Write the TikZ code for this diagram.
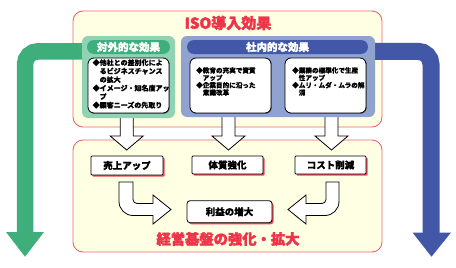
\documentclass[tikz,border=0pt]{standalone}
\usepackage{fontspec}
\setmainfont{Noto Sans CJK JP}[BoldFeatures={FakeBold=0.6}]
\newfontfamily\heavyfont{Noto Sans CJK JP}[BoldFeatures={FakeBold=2.2}]
\usetikzlibrary{shadows}
\definecolor{pinkline}{RGB}{240,100,115}
\definecolor{cream}{RGB}{255,255,228}
\definecolor{lgreen}{RGB}{143,211,180}
\definecolor{dgreen}{RGB}{62,174,123}
\definecolor{lblue}{RGB}{143,162,208}
\definecolor{dblue}{RGB}{66,87,168}
\definecolor{redtext}{RGB}{238,52,72}
\definecolor{redshadow}{RGB}{240,70,85}
\tikzset{
  outerbox/.style={draw=pinkline, fill=cream, line width=0.9pt, rounded corners=10pt, inner sep=0pt},
  panel/.style={rounded corners=6pt, inner sep=0pt},
  pill/.style={rounded corners=7pt, inner sep=0pt, text=white, font=\heavyfont\bfseries\fontsize{10.5}{11}\selectfont},
  whitebox/.style={draw=black, fill=white, line width=0.8pt, rounded corners=6pt, inner sep=0pt,
    drop shadow={shadow xshift=0.7pt, shadow yshift=-0.7pt, fill=black!70, opacity=1}},
  boxtextL/.style={inner sep=0pt, align=left, anchor=north west, font=\bfseries\fontsize{7}{8.5}\selectfont},
  boxtextR/.style={inner sep=0pt, align=left, anchor=north west, font=\bfseries\fontsize{6.6}{7.4}\selectfont},
  resultbox/.style={draw=black, fill=white, line width=0.8pt, rounded corners=1pt, inner sep=0pt,
    font=\bfseries\fontsize{9.5}{10}\selectfont,
    drop shadow={shadow xshift=1.6pt, shadow yshift=-1.6pt, fill=redshadow, opacity=1}},
  blockarrow/.style={draw=black, fill=white, line width=0.8pt},
  bigtitle/.style={text=redtext, inner sep=0pt, font=\heavyfont\bfseries\fontsize{15}{16}\selectfont},
}
\begin{document}
\begin{tikzpicture}[x=1pt,y=-1pt]
\useasboundingbox (0,0) rectangle (456,268);

% outer boxes
\node[outerbox, minimum width=309, minimum height=116] (topbox) at (227.5,69) {};
\node[outerbox, minimum width=309, minimum height=112] (botbox) at (227.5,196) {};

% side arrows
\draw[line width=16.5pt, dgreen, rounded corners=13pt] (84,51.3) -- (25,51.3) -- (25,233);
\fill[dgreen] (6,232) -- (44,232) -- (25,256.7) -- cycle;
\draw[line width=17pt, dblue, rounded corners=13pt] (372,51.3) -- (431,51.3) -- (431,233);
\fill[dblue] (412.5,232.5) -- (451,232.5) -- (431.5,256.7) -- cycle;

% straight down arrows
\foreach \cx in {126.7,228.5,331.5}{
  \draw[blockarrow] (\cx-6.5,112) -- (\cx-6.5,136) -- (\cx-16.5,136) -- (\cx,150)
     -- (\cx+16.5,136) -- (\cx+6.5,136) -- (\cx+6.5,112);
}

% panels
\node[panel, fill=lgreen, minimum width=93, minimum height=82] (gpanel) at (128.5,77) {};
\node[panel, fill=lblue, minimum width=194, minimum height=81] (bpanel) at (278,76.5) {};
\node[pill, fill=dgreen, minimum width=83, minimum height=14] (gpill) at (128.5,47) {対外的な効果};
\node[pill, fill=dblue, minimum width=181, minimum height=14] (bpill) at (277.5,47) {社内的な効果};

% inner white boxes
\node[whitebox, minimum width=81, minimum height=55] (ext) at (128.5,85.5) {};
\node[whitebox, minimum width=81, minimum height=55] (int1) at (230.5,85.5) {};
\node[whitebox, minimum width=81, minimum height=55] (int2) at (325.5,85.5) {};

\node[boxtextL] (extT) at (92.5,59) {◆他社との差別化によ\\\hphantom{◆}るビジネスチャンス\\\hphantom{◆}の拡大\\◆イメージ・知名度アッ\\\hphantom{◆}プ\\◆顧客ニーズの先取り};
\node[boxtextR] (int1T) at (196,67) {◆教育の充実で資質\\\hphantom{◆}アップ\\◆企業目的に沿った\\\hphantom{◆}意識改革};
\node[boxtextR] (int2T) at (292,67) {◆業務の標準化で生産\\\hphantom{◆}性アップ\\◆ムリ・ムダ・ムラの解\\\hphantom{◆}消};

% titles
\node[bigtitle] (title) at (228,23) {ISO導入効果};
\node[bigtitle, font=\heavyfont\bfseries\fontsize{14.3}{15}\selectfont] (bottitle) at (228,239) {経営基盤の強化・拡大};

% curved arrows
\draw[blockarrow] (119,182) -- (119,201.5) .. controls (119,209.2) and (125.3,215.5) .. (133,215.5)
  -- (153,215.5) -- (153,224) -- (171,209.5) -- (153,195) -- (153,203.5) -- (137,203.5)
  .. controls (134.8,203.5) and (133,201.7) .. (133,199.5) -- (133,182) -- cycle;
\draw[blockarrow] (339,182) -- (339,201.5) .. controls (339,209.2) and (332.7,215.5) .. (325,215.5)
  -- (306,215.5) -- (306,224) -- (288,209.5) -- (306,195) -- (306,203.5) -- (322,203.5)
  .. controls (324.2,203.5) and (326,201.7) .. (326,199.5) -- (326,182) -- cycle;

% result boxes
\node[resultbox, minimum width=72, minimum height=19] (sales) at (127,165.5) {売上アップ};
\node[resultbox, minimum width=71, minimum height=18] (health) at (227.5,165) {体質強化};
\node[resultbox, minimum width=71, minimum height=18] (cost) at (330.5,165) {コスト削減};
\node[resultbox, rounded corners=3pt, minimum width=85, minimum height=22] (profit) at (229.5,211.7) {利益の増大};
\end{tikzpicture}
\end{document}
